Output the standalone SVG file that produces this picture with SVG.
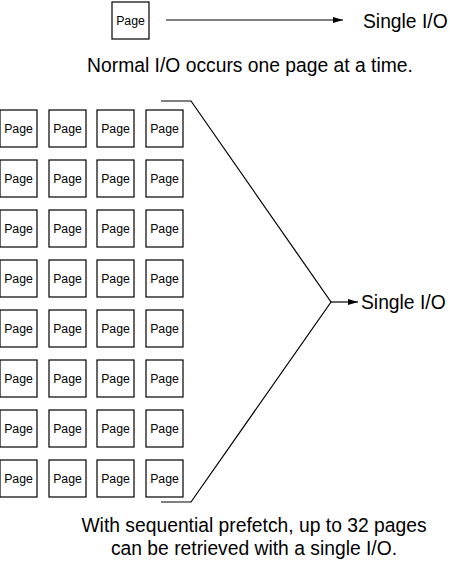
<svg xmlns="http://www.w3.org/2000/svg" width="450" height="561" viewBox="0 0 450 561">
<style>
.box{fill:#fff;stroke:#000;stroke-width:1.2}
.pt{font-family:"Liberation Sans",Arial,sans-serif;font-size:12.3px;text-anchor:middle;fill:#000}
.lbl{font-family:"Liberation Sans",Arial,sans-serif;font-size:19.3px;fill:#000}
.cap{font-family:"Liberation Sans",Arial,sans-serif;font-size:19.3px;fill:#000;text-anchor:middle}
.ln{fill:none;stroke:#000;stroke-width:1.2}
</style>
<defs>
<marker id="ah" viewBox="0 0 10 6" refX="10" refY="3" markerWidth="10" markerHeight="6" markerUnits="userSpaceOnUse" orient="auto">
<path d="M0,0 L10,3 L0,6 Z" fill="#000"/>
</marker>
<symbol id="pg" overflow="visible">
<rect class="box" x="0" y="0" width="37" height="37"/>
<text class="pt" x="18.5" y="23">Page</text>
</symbol>
</defs>
<g id="single-page">
<rect class="box" x="112" y="2" width="37" height="37"/>
<text class="pt" x="130.5" y="25">Page</text>
</g>
<g id="connectors">
<line class="ln" x1="166" y1="20" x2="343" y2="20" marker-end="url(#ah)"/>
<polyline class="ln" points="161,101 191,101 331,302 191,502 161,502"/>
<line class="ln" x1="331" y1="302" x2="358" y2="302" marker-end="url(#ah)"/>
</g>
<g id="single-io-top"><text class="lbl" x="363" y="28">Single I/O</text></g>
<g id="caption-top"><text class="cap" x="250" y="72">Normal I/O occurs one page at a time.</text></g>
<g id="pages">
<use href="#pg" x="0" y="110"/><use href="#pg" x="49" y="110"/><use href="#pg" x="97" y="110"/><use href="#pg" x="146" y="110"/>
<use href="#pg" x="0" y="160"/><use href="#pg" x="49" y="160"/><use href="#pg" x="97" y="160"/><use href="#pg" x="146" y="160"/>
<use href="#pg" x="0" y="210"/><use href="#pg" x="49" y="210"/><use href="#pg" x="97" y="210"/><use href="#pg" x="146" y="210"/>
<use href="#pg" x="0" y="260"/><use href="#pg" x="49" y="260"/><use href="#pg" x="97" y="260"/><use href="#pg" x="146" y="260"/>
<use href="#pg" x="0" y="310"/><use href="#pg" x="49" y="310"/><use href="#pg" x="97" y="310"/><use href="#pg" x="146" y="310"/>
<use href="#pg" x="0" y="360"/><use href="#pg" x="49" y="360"/><use href="#pg" x="97" y="360"/><use href="#pg" x="146" y="360"/>
<use href="#pg" x="0" y="410"/><use href="#pg" x="49" y="410"/><use href="#pg" x="97" y="410"/><use href="#pg" x="146" y="410"/>
<use href="#pg" x="0" y="460"/><use href="#pg" x="49" y="460"/><use href="#pg" x="97" y="460"/><use href="#pg" x="146" y="460"/>
</g>
<g id="single-io-mid"><text class="lbl" x="361" y="309">Single I/O</text></g>
<g id="caption-bottom">
<text class="cap" x="254" y="532">With sequential prefetch, up to 32 pages</text>
<text class="cap" x="254" y="555">can be retrieved with a single I/O.</text>
</g>
</svg>
